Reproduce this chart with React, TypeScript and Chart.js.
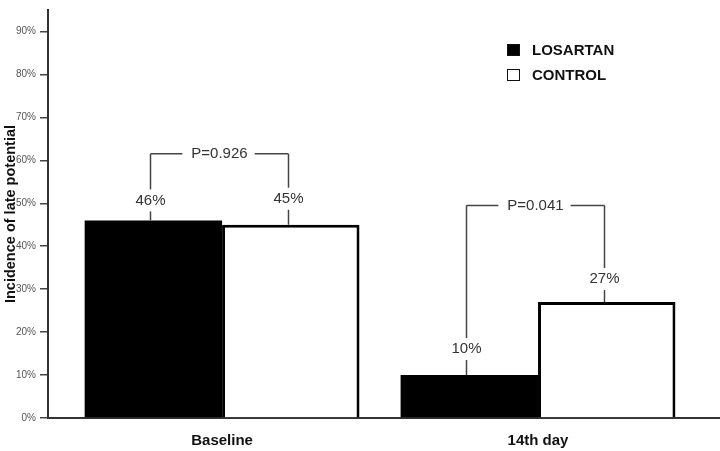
import React, { useEffect, useRef } from 'react';
import { Chart, registerables } from 'chart.js';

Chart.register(...registerables);

const categories = ['Baseline', '14th day'];
const losartan = [46, 10];
const control = [45, 27];
const pValues = ['P=0.926', 'P=0.041'];
const bracketLevels = [61.5, 49.5];
const seriesNames = ['LOSARTAN', 'CONTROL'];
const yMax = 95;
const yStep = 10;

const FONT = '"Liberation Sans", Arial, Helvetica, sans-serif';
const LABEL_GAPS = [
  [20, 26],
  [26, 23],
];

const annotationPlugin = {
  id: 'pAnnotations',
  afterDatasetsDraw(chart: any) {
    const ctx = chart.ctx;
    const y = chart.scales.y;
    const m0 = chart.getDatasetMeta(0);
    const m1 = chart.getDatasetMeta(1);
    ctx.save();
    ctx.font = '15px ' + FONT;
    ctx.fillStyle = '#333';
    ctx.strokeStyle = '#444';
    ctx.lineWidth = 1.5;
    ctx.textAlign = 'center';
    ctx.textBaseline = 'middle';
    const seg = (x0: number, y0: number, x1: number, y1: number) => {
      ctx.beginPath();
      ctx.moveTo(x0, y0);
      ctx.lineTo(x1, y1);
      ctx.stroke();
    };
    categories.forEach((_, i) => {
      const by = y.getPixelForValue(bracketLevels[i]);
      const bars = [m0.data[i], m1.data[i]];
      const vals = [losartan[i], control[i]];
      const xs: number[] = [];
      bars.forEach((bar: any, k: number) => {
        const x = Math.round(bar.x) - 2.5;
        xs.push(x);
        const top = bar.y;
        const ly = top - LABEL_GAPS[i][k];
        ctx.fillText(vals[k] + '%', x, ly);
        seg(x, top, x, ly + 11);
        seg(x, ly - 11, x, by);
      });
      const mid = (xs[0] + xs[1]) / 2;
      const tw = ctx.measureText(pValues[i]).width;
      ctx.fillText(pValues[i], mid, by);
      seg(xs[0], by, mid - tw / 2 - 9, by);
      seg(mid + tw / 2 + 7, by, xs[1], by);
    });
    ctx.restore();
  },
  afterDraw(chart: any) {
    const ctx = chart.ctx;
    ctx.save();
    ctx.font = 'bold 15px ' + FONT;
    ctx.textAlign = 'left';
    ctx.textBaseline = 'middle';
    const items = [
      { fill: '#000', y: 50 },
      { fill: '#fff', y: 75 },
    ];
    items.forEach((it, i) => {
      ctx.fillStyle = it.fill;
      ctx.fillRect(507, it.y - 6, 13, 12);
      ctx.strokeStyle = '#111';
      ctx.lineWidth = 1;
      ctx.strokeRect(507.5, it.y - 5.5, 12, 11);
      ctx.fillStyle = '#111';
      ctx.fillText(seriesNames[i], 532, it.y + 1);
    });
    ctx.restore();
  },
};

export default function App() {
  const ref = useRef<HTMLCanvasElement>(null);
  useEffect(() => {
    if (!ref.current) return;
    Chart.defaults.font.family = FONT;
    const chart = new Chart(ref.current, {
      type: 'bar',
      data: {
        datasets: [
          {
            label: seriesNames[0],
            data: losartan.map((v, i) => ({ x: i, y: v })),
            backgroundColor: '#000',
            borderColor: '#000',
            borderWidth: 0,
          },
          {
            label: seriesNames[1],
            data: control.map((v, i) => ({ x: i, y: v })),
            backgroundColor: '#fff',
            borderColor: '#000',
            borderWidth: 3,
          },
        ],
      },
      options: {
        responsive: false,
        animation: false,
        layout: { padding: { top: 2, left: 0, right: 0, bottom: 0 } },
        datasets: { bar: { categoryPercentage: 0.87, barPercentage: 1 } } as any,
        plugins: { legend: { display: false }, tooltip: { enabled: false } },
        scales: {
          x: {
            type: 'linear',
            offset: false,
            min: -0.551,
            max: 1.576,
            grid: { display: false, offset: false },
            border: { display: true, color: '#333', width: 2 },
            ticks: {
              stepSize: 1,
              includeBounds: false,
              autoSkip: false,
              maxRotation: 0,
              padding: 6,
              color: '#111',
              font: { size: 15, weight: 'bold' },
              callback: (v: any) => categories[v] ?? '',
            },
            afterFit: (s: any) => {
              s.height = 33;
            },
          } as any,
          y: {
            min: 0,
            max: yMax,
            border: { display: true, color: '#333', width: 2 },
            grid: { drawOnChartArea: false, drawTicks: true, tickLength: 8, color: '#444', lineWidth: 1.5 },
            ticks: {
              stepSize: yStep,
              includeBounds: false,
              padding: 4,
              color: '#555',
              font: { size: 10 },
              callback: (v: any) => v + '%',
            },
            title: {
              display: true,
              text: 'Incidence of late potential',
              color: '#111',
              font: { size: 14.5, weight: 'bold' },
              padding: { top: 2, bottom: 0 },
            },
            afterFit: (s: any) => {
              s.width = 48;
            },
          } as any,
        },
      },
      plugins: [annotationPlugin],
    });
    return () => chart.destroy();
  }, []);
  return (
    <div style={{ position: 'absolute', left: 0, top: 0, width: 720, height: 451, background: '#fff' }}>
      <canvas ref={ref} width={720} height={451} style={{ display: 'block' }} />
    </div>
  );
}
